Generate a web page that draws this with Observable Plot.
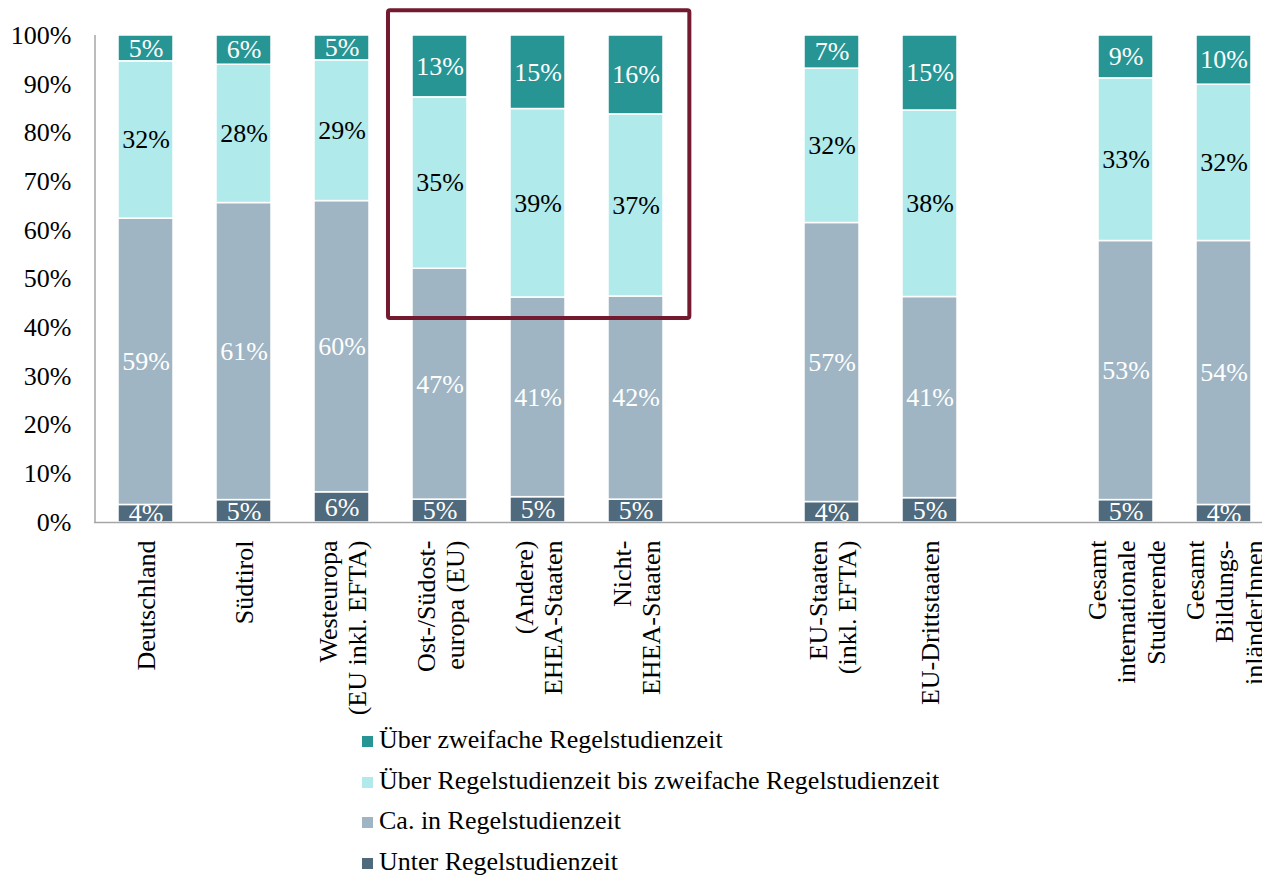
<!DOCTYPE html>
<html>
<head>
<meta charset="utf-8">
<script src="https://cdn.jsdelivr.net/npm/d3@7"></script>
<script src="https://cdn.jsdelivr.net/npm/@observablehq/plot@0.6"></script>
<style>
  body { margin: 0; background: #fff; font-family: "Liberation Serif", "DejaVu Serif", serif; }
  #chart svg { display: block; overflow: visible; }
  .legend { padding-left: 362px; }
  .legend .row { height: 40.5px; line-height: 40.5px; font-size: 26px; color: #000; white-space: nowrap; }
  .legend .sw { display: inline-block; width: 11px; height: 11px; margin-right: 6px; vertical-align: 1px; }
</style>
</head>
<body>
<div id="chart"></div>
<div class="legend" id="legend"></div>
<script>
// ---- data ----
const categories = ["Deutschland", "Südtirol", "Westeuropa", "Ost", "Andere", "Nicht", "EU-Staaten", "EU-Dritt", "Gesamt-int", "Gesamt-bild"];
const categoryLabels = [
  "Deutschland",
  "Südtirol",
  "Westeuropa\n(EU inkl. EFTA)",
  "Ost-/Südost-\neuropa (EU)",
  "(Andere)\nEHEA-Staaten",
  "Nicht-\nEHEA-Staaten",
  "EU-Staaten\n(inkl. EFTA)",
  "EU-Drittstaaten",
  "Gesamt\ninternationale\nStudierende",
  "Gesamt\nBildungs-\ninländerInnen"
];
// slot order along the axis, with empty gap slots
const xSlots = ["Deutschland", "Südtirol", "Westeuropa", "Ost", "Andere", "Nicht", "gap1", "EU-Staaten", "EU-Dritt", "gap2", "Gesamt-int", "Gesamt-bild"];

const seriesNames = [
  "Unter Regelstudienzeit",
  "Ca. in Regelstudienzeit",
  "Über Regelstudienzeit bis zweifache Regelstudienzeit",
  "Über zweifache Regelstudienzeit"
];
const unter     = [3.6, 4.6, 6.2, 4.7, 5.2, 4.7, 4.2, 5.0, 4.6, 3.6];
const caIn      = [58.8, 61.0, 59.8, 47.4, 41.0, 41.7, 57.3, 41.3, 53.2, 54.2];
const ueberBis  = [32.3, 28.4, 28.9, 35.2, 38.7, 37.4, 31.7, 38.3, 33.4, 32.1];
const ueberZwei = [5.3, 6.0, 5.1, 12.7, 15.1, 16.2, 6.8, 15.4, 8.8, 10.1];
const seriesValues = [unter, caIn, ueberBis, ueberZwei];
const seriesColors = ["#4f6a7c", "#a0b5c3", "#b0eaeb", "#289595"];
const yTicks = [0, 10, 20, 30, 40, 50, 60, 70, 80, 90, 100];

// highlighted group
const annot = { from: "Ost", to: "Nicht", yLow: 41.9, yHigh: 105.1 };

// ---- build table ----
const rows = [];
categories.forEach((c, i) => {
  seriesNames.forEach((s, j) => rows.push({ cat: c, series: s, value: seriesValues[j][i] }));
});
const labelRows = categories.map((c, i) => ({ cat: c, label: categoryLabels[i] }));

const FONT = "'Liberation Serif', 'DejaVu Serif', serif";
const PAD = 0.44;
const svgNS = "http://www.w3.org/2000/svg";

function yAxisLine(index, scales, values, dimensions) {
  const l = document.createElementNS(svgNS, "line");
  const x = dimensions.marginLeft + 1;
  l.setAttribute("x1", x); l.setAttribute("x2", x);
  l.setAttribute("y1", scales.y(0)); l.setAttribute("y2", scales.y(100));
  l.setAttribute("stroke", "#a6a6a6"); l.setAttribute("stroke-width", 1.5);
  return l;
}

function highlightBox(index, scales) {
  const x = scales.x, y = scales.y;
  const step = x(xSlots[1]) - x(xSlots[0]);
  const bw = step * (1 - PAD);
  const x0 = x(annot.from) - step * 0.245;
  const x1 = x(annot.to) + bw + step * 0.27;
  const r = document.createElementNS(svgNS, "rect");
  r.setAttribute("x", x0); r.setAttribute("width", x1 - x0);
  r.setAttribute("y", y(annot.yHigh)); r.setAttribute("height", y(annot.yLow) - y(annot.yHigh));
  r.setAttribute("fill", "none"); r.setAttribute("stroke", "#741a2e");
  r.setAttribute("stroke-width", 4); r.setAttribute("rx", 2);
  return r;
}

const chart = Plot.plot({
  width: 1262,
  height: 720,
  marginTop: 35,
  marginBottom: 198,
  marginLeft: 94,
  marginRight: -13,
  style: { fontFamily: FONT, fontSize: "26px", color: "#000", background: "#fff", overflow: "visible" },
  x: { domain: xSlots, paddingInner: PAD, paddingOuter: PAD / 2, axis: null },
  y: { domain: [0, 100], axis: null, label: null },
  color: { domain: seriesNames, range: seriesColors },
  marks: [
    Plot.barY(rows, { x: "cat", y: "value", fill: "series", z: "series", order: seriesNames, stroke: "#fff", strokeWidth: 1.5 }),
    Plot.text(rows, Plot.stackY({
      x: "cat", y: "value", z: "series", order: seriesNames,
      text: d => d.series === seriesNames[2] ? "" : Math.round(d.value) + "%",
      fill: "#fff", fontSize: 26, fontFamily: FONT
    })),
    Plot.text(rows, Plot.stackY({
      x: "cat", y: "value", z: "series", order: seriesNames,
      text: d => d.series === seriesNames[2] ? Math.round(d.value) + "%" : "",
      fill: "#000", fontSize: 26, fontFamily: FONT
    })),
    Plot.ruleY([0], { stroke: "#a6a6a6", strokeWidth: 1.5 }),
    yAxisLine,
    Plot.axisY({ ticks: yTicks, tickFormat: d => d + "%", tickSize: 0, tickPadding: 23, fontSize: 26, fontFamily: FONT, fill: "#000", label: null }),
    Plot.text(labelRows, {
      x: "cat", text: "label", frameAnchor: "bottom", rotate: -90,
      textAnchor: "end", lineAnchor: "middle", lineHeight: 1.13, dy: 18,
      fontSize: 26, fontFamily: FONT, fill: "#000"
    }),
    highlightBox
  ]
});
document.getElementById("chart").appendChild(chart);

// ---- legend (top to bottom as in the original) ----
const legend = document.getElementById("legend");
[3, 2, 1, 0].forEach(j => {
  const row = document.createElement("div");
  row.className = "row";
  const sw = document.createElement("span");
  sw.className = "sw";
  sw.style.background = seriesColors[j];
  row.appendChild(sw);
  row.appendChild(document.createTextNode(seriesNames[j]));
  legend.appendChild(row);
});
</script>
</body>
</html>
